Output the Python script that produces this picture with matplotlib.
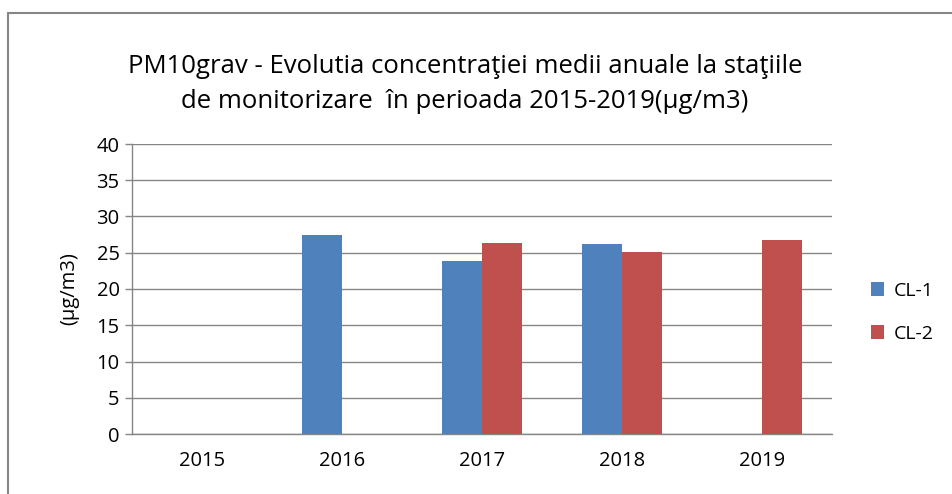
import numpy as np
import matplotlib.pyplot as plt
from matplotlib.patches import Rectangle

# Datos
years = ['2015', '2016', '2017', '2018', '2019']
cl1 = [np.nan, 27.4, 23.9, 26.2, np.nan]
cl2 = [np.nan, np.nan, 26.4, 25.1, 26.7]
series_names = ['CL-1', 'CL-2']
colors = ['#4F81BD', '#C0504D']
title = ('PM10grav - Evolutia concentraţiei medii anuale la staţiile\n'
         'de monitorizare  în perioada 2015-2019(µg/m3)')

plt.rcParams['font.family'] = ['Open Sans', 'DejaVu Sans']

W, H = 953, 494
fig = plt.figure(figsize=(W / 100, H / 100), dpi=100)

# marco gris del gráfico (sólo se ven los bordes izquierdo y superior)
fig.patches.append(Rectangle((8 / W, -1), 2, 2 - 13 / H, transform=fig.transFigure,
                             fill=False, edgecolor='#868686', linewidth=1.5))

ax = fig.add_axes([132 / W, 1 - 434 / H, 700 / W, 290 / H])

x = np.arange(len(years))
w = 1 / 3.5
ax.bar(x - w / 2, cl1, width=w, color=colors[0], label=series_names[0], zorder=3)
ax.bar(x + w / 2, cl2, width=w, color=colors[1], label=series_names[1], zorder=3)

ax.set_xlim(-0.5, len(years) - 0.5)
ax.set_ylim(0, 40)
ax.set_yticks(range(0, 41, 5))
ax.set_xticks(x)
ax.set_xticklabels(years, fontsize=14.5)
ax.tick_params(axis='y', labelsize=14.5, length=5, color='#868686', width=1, pad=4)
ax.tick_params(axis='x', length=0, pad=12)
ax.grid(True, axis='y', color='#868686', linewidth=1, zorder=0)

for side in ['top', 'right']:
    ax.spines[side].set_visible(False)
for side in ['left', 'bottom']:
    ax.spines[side].set_color('#868686')
    ax.spines[side].set_linewidth(1)

ax.set_ylabel('(µg/m3)', fontsize=14.5, labelpad=12)

fig.text(465 / W, 1 - 84 / H, title, ha='center', va='center', fontsize=18.5,
         linespacing=1.55)

ax.legend(loc='center left', bbox_to_anchor=(1.03, 0.42), frameon=False, fontsize=14,
          handlelength=0.7, handleheight=0.7, labelspacing=1.3, handletextpad=0.5)

plt.savefig('out.png', dpi=100)
plt.close()
